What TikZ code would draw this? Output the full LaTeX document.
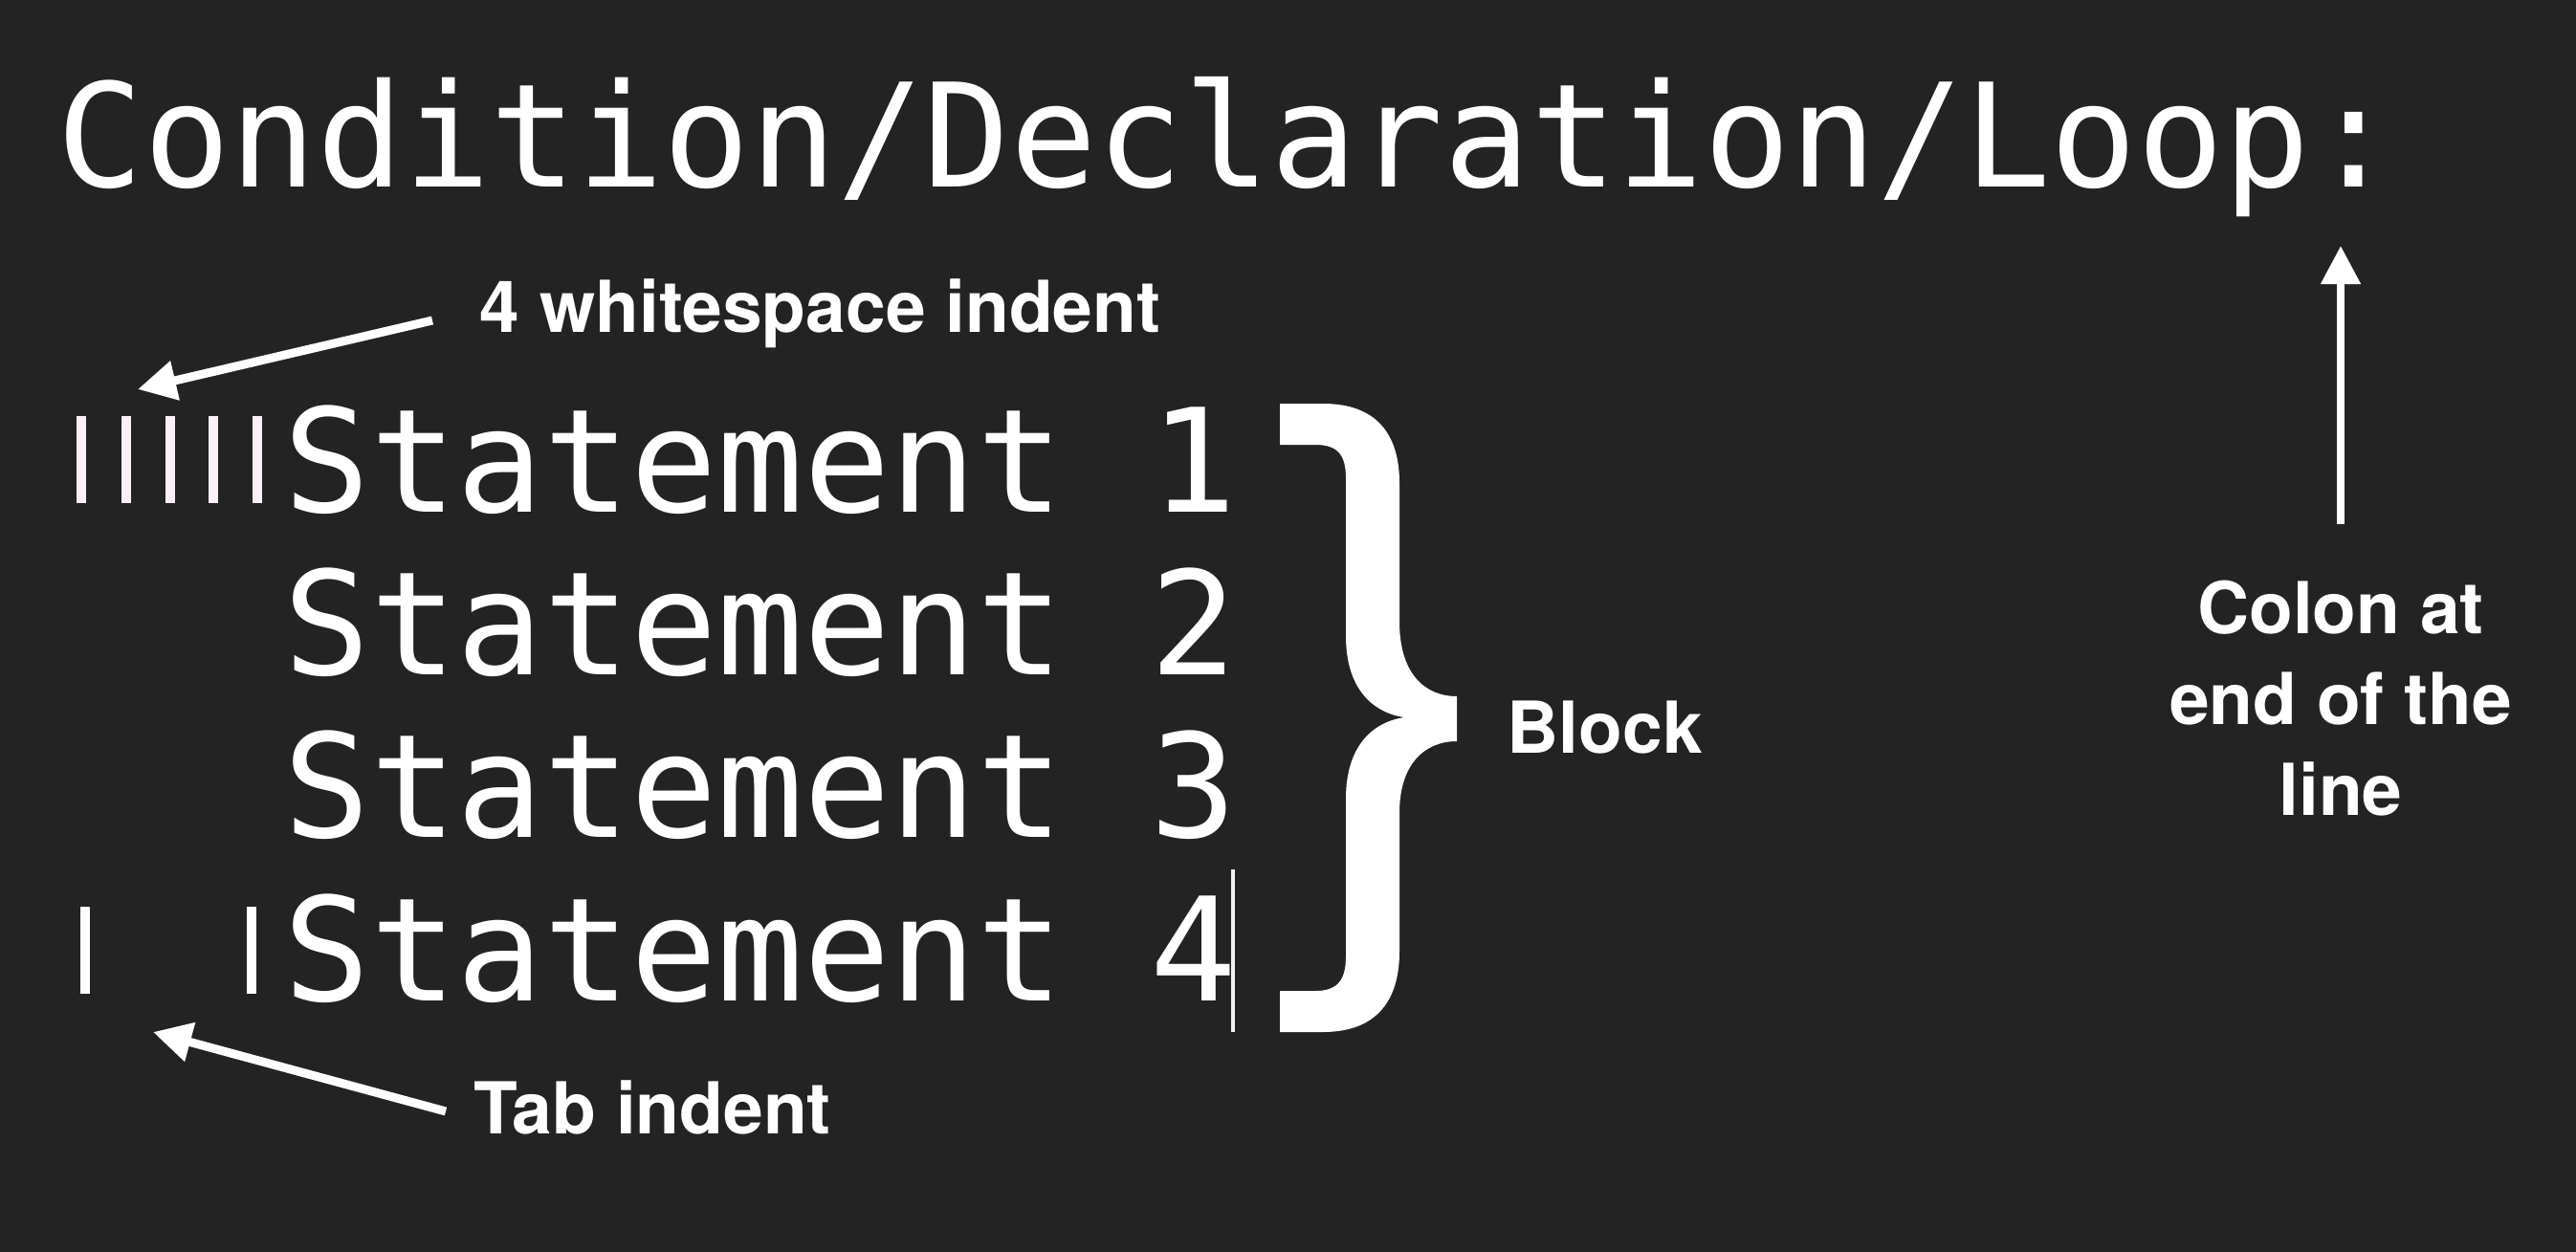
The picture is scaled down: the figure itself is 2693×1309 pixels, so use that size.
\documentclass[tikz,border=0pt]{standalone}
\usepackage{fontspec}
\setmainfont{TeX Gyre Heros}
\newfontfamily\codefont{DejaVu Sans Mono}
\usetikzlibrary{arrows.meta}
\definecolor{bg}{HTML}{232323}
\definecolor{wsbar}{HTML}{FBF0F8}
\tikzset{
  code/.style={font=\codefont\fontsize{42.8pt}{51pt}\selectfont, text=white, inner sep=0pt, anchor=base west},
  note/.style={font=\bfseries\fontsize{21.3pt}{27pt}\selectfont, text=white, inner sep=0pt},
  pointer/.style={draw=white, line width=2.56pt, -{Triangle[length=11.4pt,width=11.4pt]}},
}
\begin{document}
\begin{tikzpicture}[x=0.01cm,y=-0.01cm]
\fill[bg] (0,0) rectangle (2693,1309);
\useasboundingbox (0,0) rectangle (2693,1309);
% title
\node[code] (title) at (59,195) {Condition/Declaration/Loop:};
% statements
\node[code] (s1) at (296,535) {Statement 1};
\node[code] (s2) at (296,705) {Statement 2};
\node[code] (s3) at (296,875) {Statement 3};
\node[code] (s4) at (296,1046) {Statement 4};
% whitespace markers
\foreach \xx in {85,132,178,223,269}{
  \fill[wsbar] (\xx-5,435) rectangle (\xx+5,526);
}
% tab markers
\foreach \xx in {89,263}{
  \fill[white] (\xx-5,948) rectangle (\xx+5,1039);
}
% cursor
\fill[white!90!gray] (1287,909) rectangle (1291,1079);
% brace
\fill[white] (1338,422) -- (1383,422) .. controls (1440,422) and (1463,455) .. (1463,505)
  -- (1463,650) .. controls (1463,705) and (1490,728) .. (1523,728)
  -- (1523,775) .. controls (1490,775) and (1463,798) .. (1463,850)
  -- (1463,995) .. controls (1463,1045) and (1440,1079) .. (1383,1079)
  -- (1338,1079) -- (1338,1036) -- (1375,1036) .. controls (1398,1036) and (1407,1025) .. (1407,1000)
  -- (1407,835) .. controls (1407,780) and (1435,755) .. (1468,750)
  .. controls (1435,745) and (1407,720) .. (1407,665)
  -- (1407,500) .. controls (1407,475) and (1398,465) .. (1375,465)
  -- (1338,465) -- cycle;
% labels
\node[note, anchor=base west] (ws) at (501,347) {4 whitespace indent};
\node[note, anchor=base west] (tab) at (495,1185) {Tab indent};
\node[note, anchor=base west] (block) at (1575,787) {Block};
\node[note, align=center, anchor=north] (colon) at (2447,606) {Colon at\\end of the\\line};
% arrow ends
\coordinate (wstail) at (452,335);
\coordinate (wstip) at (144,407);
\coordinate (tabtail) at (466,1162);
\coordinate (tabtip) at (160,1079);
\coordinate (colontail) at (2447,548);
\coordinate (colontip) at (2447,257);
\draw[pointer] (wstail) -- (wstip);
\draw[pointer] (tabtail) -- (tabtip);
\draw[pointer, line width=2.28pt] (colontail) -- (colontip);
\end{tikzpicture}
\end{document}
